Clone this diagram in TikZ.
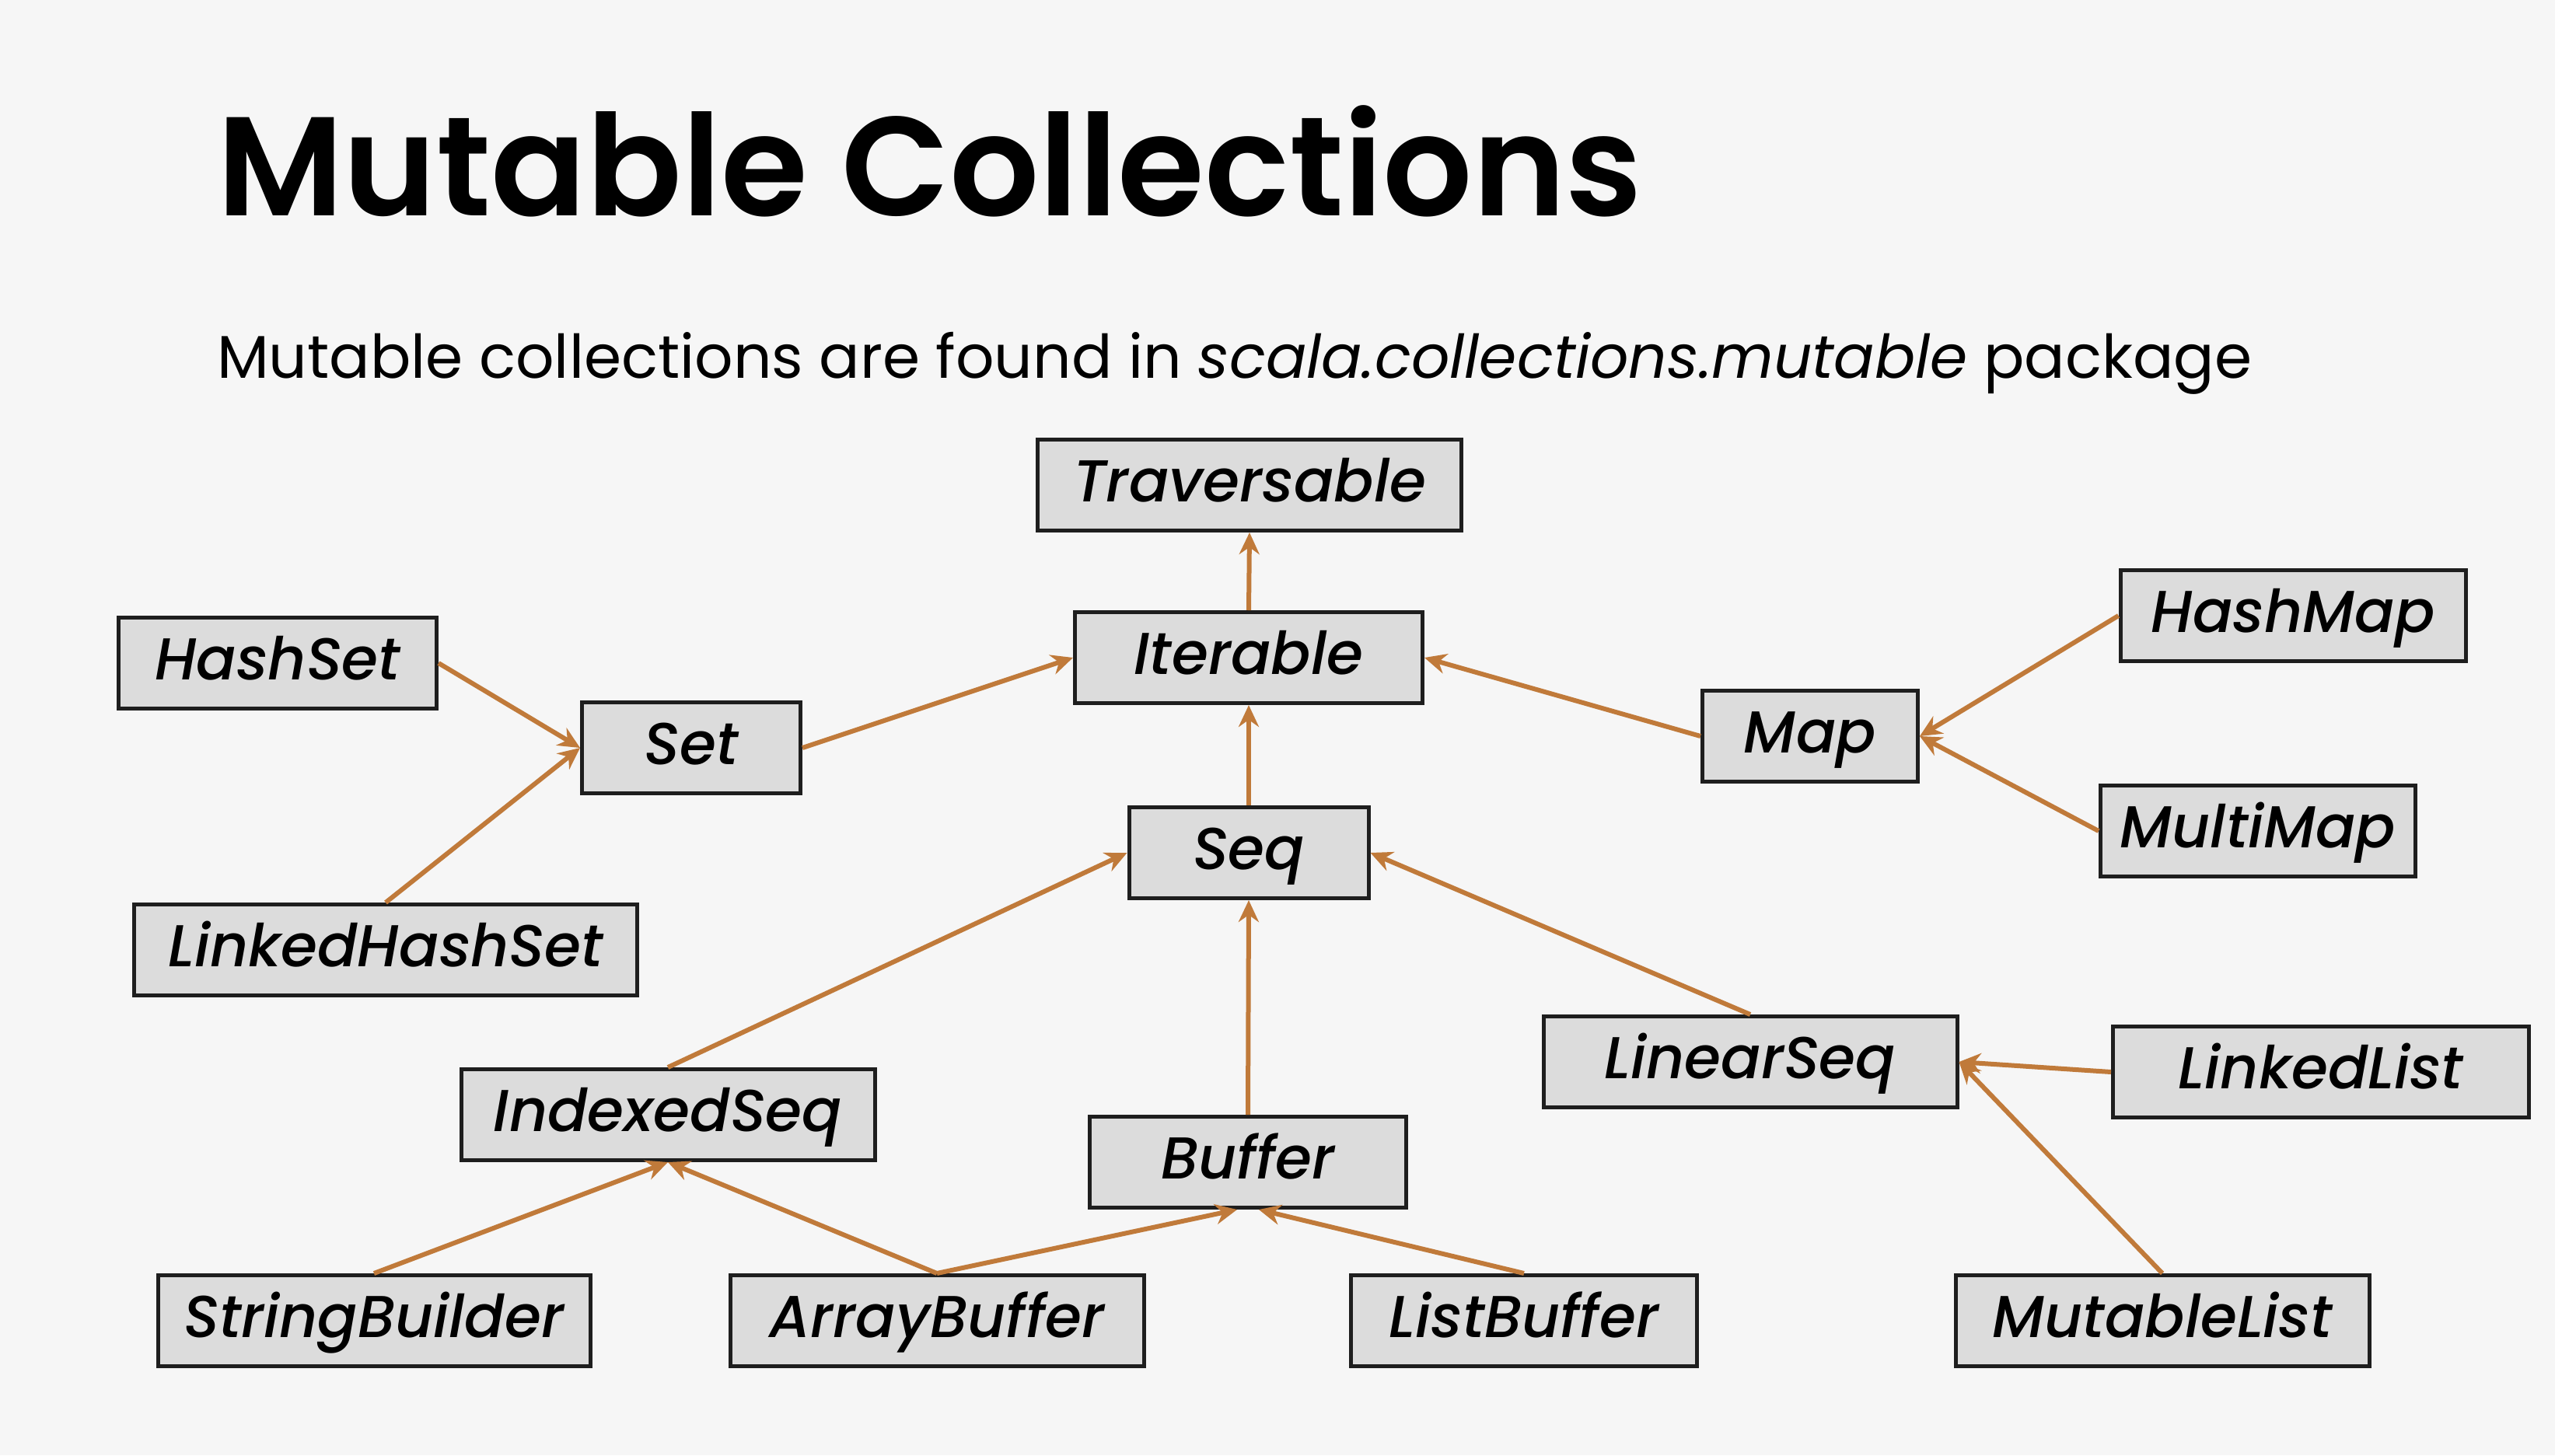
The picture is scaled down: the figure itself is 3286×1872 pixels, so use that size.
\documentclass[tikz,border=0pt]{standalone}
\usepackage{fontspec}
\usetikzlibrary{arrows.meta}
\newfontfamily\titlefont{Poppins SemiBold}
\newfontfamily\bodyfont{Poppins}[ItalicFont={Poppins Italic}]
\newfontfamily\boxfont{Poppins Medium Italic}
\definecolor{paper}{HTML}{F6F6F6}
\definecolor{boxfill}{HTML}{DCDCDC}
\definecolor{boxline}{HTML}{1E1E1E}
\definecolor{arrowc}{HTML}{C07A3A}
\tikzset{
  cls/.style={draw=boxline, line width=5pt, fill=boxfill, minimum height=117pt,
    inner sep=0pt, text height=52pt, text depth=10pt, text=black,
    font=\boxfont\fontsize{76}{84}\selectfont},
  inh/.style={draw=arrowc, line width=6pt, -{Stealth[length=28pt,width=26pt]}}
}
\begin{document}
\begin{tikzpicture}[x=1pt,y=-1pt]
  \fill[paper] (0,0) rectangle (3286,1872);
  \useasboundingbox (0,0) rectangle (3286,1872);

  % headings
  \node[anchor=base west, inner sep=0pt, font=\titlefont\fontsize{181}{195}\selectfont] (title) at (279,277) {Mutable Collections};
  \node[anchor=base west, inner sep=0pt, font=\bodyfont\fontsize{77.5}{90}\selectfont] (sub) at (279,486)
    {Mutable collections are found in \textit{scala.collections.mutable} package};

  % class boxes
  \node[cls, minimum width=545pt] (trav) at (1607,624) {Traversable};
  \node[cls, minimum width=447pt] (iter) at (1606,846) {Iterable};
  \node[cls, minimum width=409pt] (hset) at (357,853) {HashSet};
  \node[cls, minimum width=281pt] (set) at (889,962) {Set};
  \node[cls, minimum width=647pt] (lhset) at (496,1222) {LinkedHashSet};
  \node[cls, minimum width=308pt] (seq) at (1606,1097) {Seq};
  \node[cls, minimum width=277pt] (map) at (2328,947) {Map};
  \node[cls, minimum width=444pt] (hmap) at (2949,792) {HashMap};
  \node[cls, minimum width=405pt] (mmap) at (2904,1069) {MultiMap};
  \node[cls, minimum width=532pt] (lseq) at (2251,1366) {LinearSeq};
  \node[cls, minimum width=535pt] (llist) at (2985,1379) {LinkedList};
  \node[cls, minimum width=532pt] (iseq) at (859,1434) {IndexedSeq};
  \node[cls, minimum width=407pt] (buf) at (1605,1495) {Buffer};
  \node[cls, minimum width=556pt] (sb) at (481,1699) {StringBuilder};
  \node[cls, minimum width=532pt] (abuf) at (1205,1699) {ArrayBuffer};
  \node[cls, minimum width=445pt] (lbuf) at (1960,1699) {ListBuffer};
  \node[cls, minimum width=532pt] (mlist) at (2781,1699) {MutableList};

  % inheritance arrows
  \draw[inh] (iter.north) -- (trav.south);
  \draw[inh] (seq.north) -- (iter.south);
  \draw[inh] (set.east) -- (iter.west);
  \draw[inh] (map.west) -- (iter.east);
  \draw[inh] (hset.east) -- (set.west);
  \draw[inh] (lhset.north) -- (set.west);
  \draw[inh] (hmap.west) -- (map.east);
  \draw[inh] (mmap.west) -- (map.east);
  \draw[inh] (iseq.north) -- (seq.west);
  \draw[inh] (buf.north) -- (seq.south);
  \draw[inh] (lseq.north) -- (seq.east);
  \draw[inh] (llist.west) -- (lseq.east);
  \draw[inh] (mlist.north) -- (lseq.east);
  \draw[inh] (sb.north) -- (iseq.south);
  \draw[inh] (abuf.north) -- (iseq.south);
  \draw[inh] (abuf.north) -- ([xshift=-14pt]buf.south);
  \draw[inh] (lbuf.north) -- ([xshift=14pt]buf.south);
\end{tikzpicture}
\end{document}
